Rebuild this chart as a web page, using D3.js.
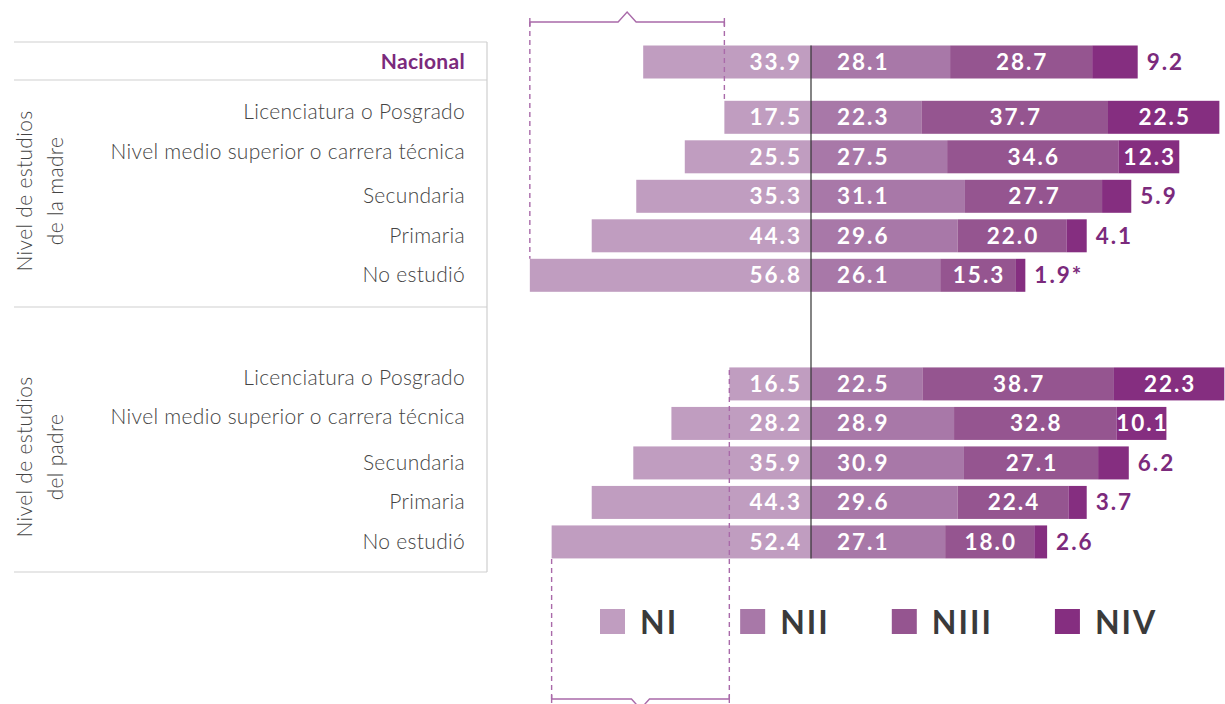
<!DOCTYPE html>
<html>
  <head>
    <meta charset="utf-8">
    <title>Niveles de logro por nivel de estudios de los padres</title>
    <script src="https://d3js.org/d3.v7.min.js"></script>
    <style type="text/css">
      body { margin: 0; background: #fff; }
      text { font-family: Lato, "Open Sans", sans-serif; }
      .cat { font-size: 21px; font-weight: 300; fill: #444; letter-spacing: 0.3px; }
      .val { font-size: 22.5px; font-weight: 700; letter-spacing: 2px; }
    </style>
  </head>
  <body>
    <script type="text/javascript">

      // Data
      var levels = ["NI", "NII", "NIII", "NIV"];
      var categories = ["Licenciatura o Posgrado", "Nivel medio superior o carrera técnica",
                        "Secundaria", "Primaria", "No estudió"];
      var nacional = [33.9, 28.1, 28.7, 9.2];
      var madreNI   = [17.5, 25.5, 35.3, 44.3, 56.8];
      var madreNII  = [22.3, 27.5, 31.1, 29.6, 26.1];
      var madreNIII = [37.7, 34.6, 27.7, 22.0, 15.3];
      var madreNIV  = [22.5, 12.3, 5.9, 4.1, 1.9];
      var madreNote = ["", "", "", "", "*"];
      var padreNI   = [16.5, 28.2, 35.9, 44.3, 52.4];
      var padreNII  = [22.5, 28.9, 30.9, 29.6, 27.1];
      var padreNIII = [38.7, 32.8, 27.1, 22.4, 18.0];
      var padreNIV  = [22.3, 10.1, 6.2, 3.7, 2.6];
      var padreNote = ["", "", "", "", ""];

      var colors = ["#c09dc0", "#a878a8", "#955590", "#852e80"];
      var accent = "#7b2a7c";
      var lineCol = "#cfcfcf";
      var bracketCol = "#a96aa9";

      var width = 1225, height = 704;
      var svg = d3.select("body").append("svg")
          .attr("width", width).attr("height", height);

      // Scales
      var x = d3.scaleLinear().domain([-60, 85]).range([514, 1231.75]);
      var y = d3.scaleLinear().domain([0, 1]).range([62, 101.5]);  // row slot -> center
      var barH = 33;

      // Build rows
      var rows = [{label: "Nacional", vals: nacional, note: "", slot: 0, bold: true, lift: 0}];
      categories.forEach(function(c, i) {
        rows.push({label: c, vals: [madreNI[i], madreNII[i], madreNIII[i], madreNIV[i]],
                   note: madreNote[i], slot: 1.4 + i, lift: i < 2 ? 5 : 0});
      });
      categories.forEach(function(c, i) {
        rows.push({label: c, vals: [padreNI[i], padreNII[i], padreNIII[i], padreNIV[i]],
                   note: padreNote[i], slot: 8.15 + i, lift: i < 2 ? 6 : 0});
      });

      // Table frame on the left
      var frame = svg.append("g").attr("stroke", lineCol).attr("stroke-width", 1.2);
      [42, 80, 307, 572].forEach(function(yy) {
        frame.append("line").attr("x1", 14).attr("x2", 487).attr("y1", yy).attr("y2", yy);
      });
      frame.append("line").attr("x1", 487).attr("x2", 487).attr("y1", 42).attr("y2", 572);

      // Group titles (rotated)
      function groupTitle(lines, cy, xs) {
        lines.forEach(function(t, i) {
          svg.append("text").attr("class", "cat")
              .attr("transform", "translate(" + xs[i] + "," + cy + ") rotate(-90)")
              .attr("text-anchor", "middle")
              .text(t);
        });
      }
      groupTitle(["Nivel de estudios", "de la madre"], 191, [32, 63]);
      groupTitle(["Nivel de estudios", "del padre"], 457, [32, 63]);

      // Row labels
      svg.selectAll("text.rowlab").data(rows).enter().append("text")
          .attr("class", "cat rowlab")
          .attr("x", 465)
          .attr("y", function(d) { return y(d.slot) + 7 - d.lift; })
          .attr("text-anchor", "end")
          .style("font-weight", function(d) { return d.bold ? 700 : 300; })
          .style("fill", function(d) { return d.bold ? accent : "#444"; })
          .text(function(d) { return d.label; });

      // Segments
      rows.forEach(function(r) {
        r.segs = [];
        r.segs.push({lvl: 0, v: r.vals[0], x0: -r.vals[0], x1: 0});
        var acc = 0;
        for (var k = 1; k < 4; k++) {
          r.segs.push({lvl: k, v: r.vals[k], x0: acc, x1: acc + r.vals[k]});
          acc += r.vals[k];
        }
      });

      var rowG = svg.selectAll("g.row").data(rows).enter().append("g")
          .attr("class", "row")
          .attr("transform", function(d) { return "translate(0," + y(d.slot) + ")"; });

      rowG.selectAll("rect").data(function(d) { return d.segs; }).enter().append("rect")
          .attr("x", function(s) { return x(s.x0); })
          .attr("y", -barH / 2)
          .attr("width", function(s) { return x(s.x1) - x(s.x0); })
          .attr("height", barH)
          .attr("fill", function(s) { return colors[s.lvl]; });

      // Value labels
      rowG.each(function(r) {
        var g = d3.select(this);
        r.segs.forEach(function(s) {
          var t = g.append("text").attr("class", "val").attr("y", 8).attr("fill", "#fff")
              .text(s.v.toFixed(1) + (s.lvl === 3 ? r.note : ""));
          if (s.lvl === 0) {
            t.attr("x", x(0) - 9).attr("text-anchor", "end");
          } else if (s.lvl === 1) {
            t.attr("x", x(0) + 26);
          } else if (s.lvl === 2 || s.v >= 10) {
            t.attr("x", (x(s.x0) + x(s.x1)) / 2 + 1).attr("text-anchor", "middle");
          } else {
            t.attr("x", x(s.x1) + 9).attr("fill", accent);
          }
        });
      });

      // Zero line
      svg.append("line")
          .attr("x1", x(0)).attr("x2", x(0))
          .attr("y1", y(0) - barH / 2).attr("y2", y(12.15) + barH / 2)
          .attr("stroke", "#333").attr("stroke-width", 1.2);

      // Brackets around the NI range of each group
      function bracket(vals, yLine, dir, yEndL, yEndR) {
        var xl = x(-d3.max(vals)), xr = x(-d3.min(vals)), xm = (xl + xr) / 2;
        var b = svg.append("g").attr("stroke", bracketCol).attr("fill", "none").attr("stroke-width", 1.4);
        b.append("path").attr("d", "M" + xl + "," + yLine + "H" + (xm - 9) +
            "L" + xm + "," + (yLine + dir * 10) + "L" + (xm + 9) + "," + yLine + "H" + xr);
        b.append("line").attr("x1", xl).attr("x2", xl).attr("y1", yLine).attr("y2", yEndL)
            .attr("stroke-dasharray", "5,4");
        b.append("line").attr("x1", xr).attr("x2", xr).attr("y1", yLine).attr("y2", yEndR)
            .attr("stroke-dasharray", "5,4");
        b.append("line").attr("x1", xl).attr("x2", xl).attr("y1", yLine - 4).attr("y2", yLine + 4);
        b.append("line").attr("x1", xr).attr("x2", xr).attr("y1", yLine - 4).attr("y2", yLine + 4);
      }
      bracket(madreNI, 22, -1, y(5.4) - barH / 2, y(1.4) - barH / 2);
      bracket(padreNI, 699, 1, y(12.15) + barH / 2, y(8.15) - barH / 2);

      // Legend
      var leg = svg.append("g").attr("transform", "translate(600,609)");
      var lx = 0;
      levels.forEach(function(l, i) {
        leg.append("rect").attr("x", lx).attr("y", 0).attr("width", 25).attr("height", 25)
            .attr("fill", colors[i]);
        var t = leg.append("text").attr("x", lx + 40).attr("y", 25)
            .style("font-size", "32px").style("font-weight", 700)
            .style("letter-spacing", "2px").attr("fill", "#3a3a3a")
            .text(l);
        lx += 40 + t.node().getComputedTextLength() + 62;
      });

    </script>
  </body>
</html>
